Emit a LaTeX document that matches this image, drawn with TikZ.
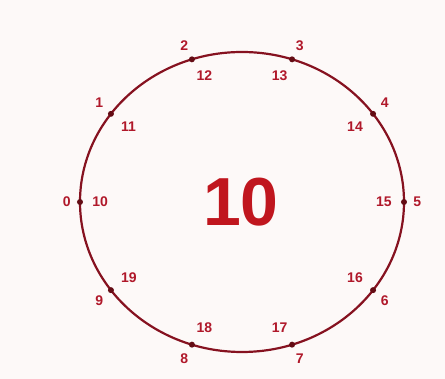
\documentclass[tikz,border=0pt]{standalone}
\usepackage{fontspec}
\setmainfont{Liberation Sans}

\definecolor{ringred}{HTML}{861220}
\definecolor{dotred}{HTML}{640C14}
\definecolor{numred}{HTML}{B0182A}
\definecolor{bigred}{HTML}{C0161E}
\definecolor{paper}{HTML}{FDF9F8}

\begin{document}
\begin{tikzpicture}[
        x=1pt, y=1pt,
        ring/.style={draw=ringred, line width=2.2pt},
        ptdot/.style={circle, fill=dotred, inner sep=0pt, minimum size=6pt},
        outlbl/.style={text=numred, font=\bfseries\fontsize{14}{14}\selectfont, inner sep=1pt, label distance=5pt},
        inlbl/.style={text=numred, font=\bfseries\fontsize{14}{14}\selectfont, inner sep=1pt, label distance=8pt},
        bignum/.style={text=bigred, font=\bfseries\fontsize{68}{68}\selectfont, inner sep=0pt}
    ]
    % page
    \fill[paper] (-242,-177) rectangle (203,202);

    % ring and the ten points on it
    \draw[ring] (0,0) ellipse [x radius=162pt, y radius=150pt];
    \foreach \i in {0,...,9} {
        \pgfmathtruncatemacro{\ang}{180-36*\i}
        \pgfmathtruncatemacro{\opp}{360-36*\i}
        \pgfmathtruncatemacro{\inn}{\i+10}
        \node[ptdot, label={[outlbl]\ang:\i}, label={[inlbl]\opp:\inn}] (p\i) at (\ang:162 and 150) {};
    }

    \node[bignum] (total) at (-1,0) {10};
\end{tikzpicture}
\end{document}
